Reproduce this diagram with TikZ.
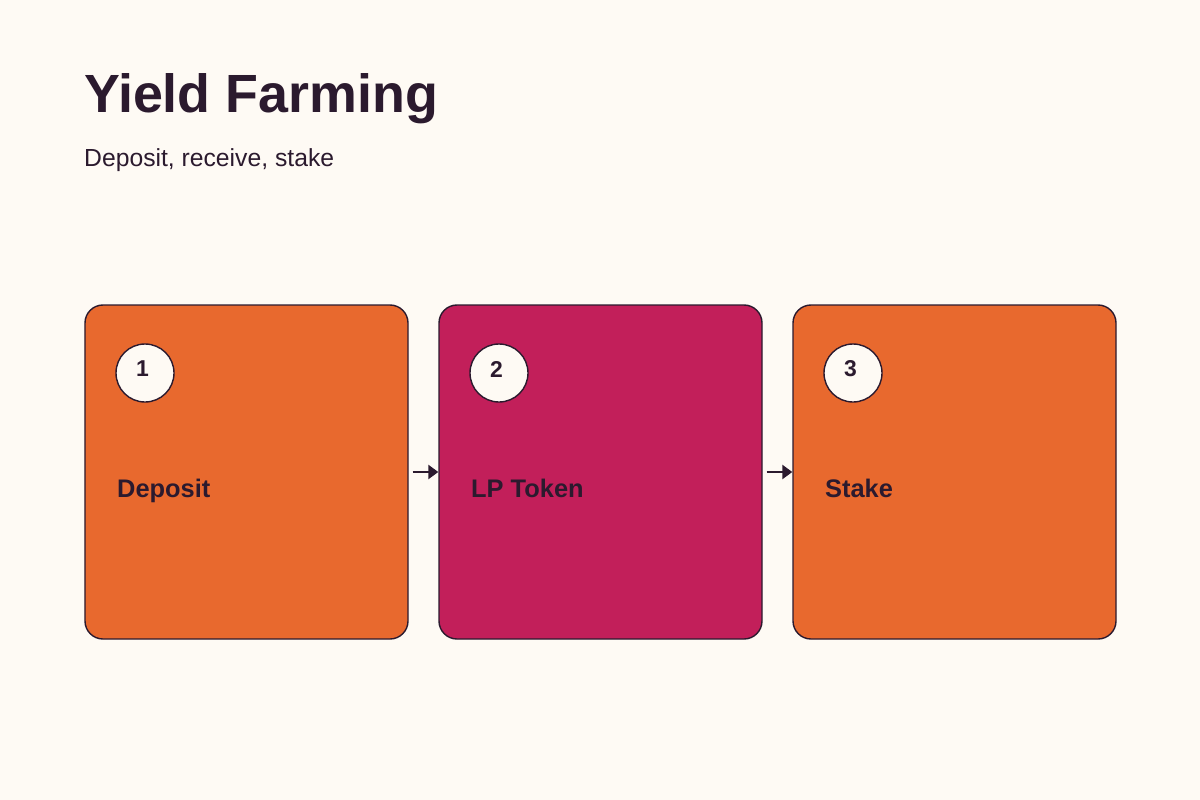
\documentclass[tikz,border=0pt]{standalone}
\usepackage{fontspec}
\setmainfont{Liberation Sans}
\usetikzlibrary{positioning, arrows.meta}

\definecolor{paper}{HTML}{FEFAF4}
\definecolor{ink}{HTML}{2B1A2E}
\definecolor{carrot}{HTML}{E8692E}
\definecolor{berry}{HTML}{C21F5A}

\tikzset{
    card/.style={draw=ink, line width=1.4bp, rounded corners=18bp, inner sep=0pt,
                 minimum width=323bp, minimum height=334bp},
    badge/.style={circle, draw=ink, line width=1.4bp, fill=paper, minimum size=58bp, inner sep=0pt},
    num/.style={font=\fontsize{23}{25}\selectfont\bfseries, text=ink, inner sep=0pt},
    cardlabel/.style={font=\fontsize{25.5}{28}\selectfont\bfseries, text=ink, inner sep=0pt, anchor=base west},
    flow/.style={-{Triangle[length=10bp, width=14bp]}, draw=ink, line width=2.5bp, shorten <=4bp}
}

\begin{document}
\begin{tikzpicture}[x=1bp, y=-1bp]
    \fill [paper] (0, 0) rectangle (1200, 800);
    \useasboundingbox (0, 0) rectangle (1200, 800);

    \node (title) [anchor=base west, inner sep=0pt, text=ink, font=\fontsize{54}{58}\selectfont\bfseries] at (84, 113) {Yield Farming};
    \node (subtitle) [anchor=base west, inner sep=0pt, text=ink, font=\fontsize{24.8}{28}\selectfont] at (84, 166) {Deposit, receive, stake};

    \node (deposit) [card, fill=carrot] at (246.5, 472) {};
    \node (lptoken) [card, fill=berry] at (600.5, 472) {};
    \node (stake) [card, fill=carrot] at (954.5, 472) {};

    \node (c1) [badge] at (145, 373) {};
    \node (c2) [badge] at (499, 373) {};
    \node (c3) [badge] at (853, 373) {};
    \node (n1) [num] at (142.5, 369) {1};
    \node (n2) [num] at (496.5, 369) {2};
    \node (n3) [num] at (850.5, 369) {3};

    \node (l1) [cardlabel] at (117, 497) {Deposit};
    \node (l2) [cardlabel] at (471, 497) {LP Token};
    \node (l3) [cardlabel] at (825, 497) {Stake};

    \draw [flow] (deposit.east) -- (lptoken.west);
    \draw [flow] (lptoken.east) -- (stake.west);
\end{tikzpicture}
\end{document}
